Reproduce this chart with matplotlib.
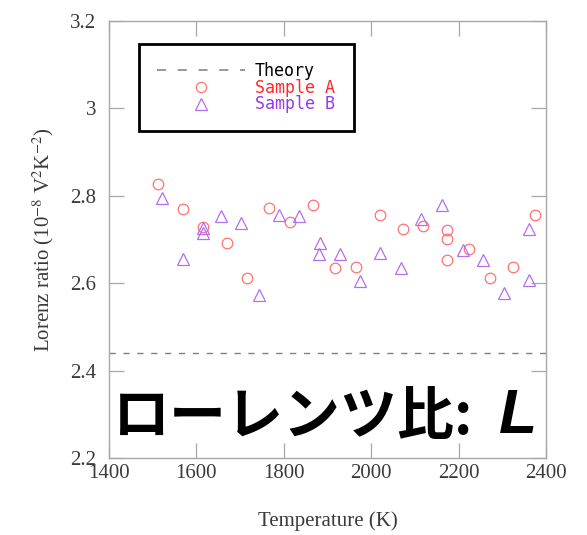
import matplotlib
matplotlib.use("Agg")
import matplotlib.pyplot as plt
from matplotlib.lines import Line2D

plt.rcParams['font.family'] = ['Liberation Serif', 'DejaVu Serif']
plt.rcParams['mathtext.fontset'] = 'stix'

# Lorenz ratio vs temperature, two samples plus the Sommerfeld value
theory_L = 2.44

temp_a = [1512, 1569, 1615, 1670, 1716, 1766, 1814, 1867, 1918, 1965,
          2020, 2073, 2119, 2174, 2174, 2174, 2224, 2272, 2325, 2375]
lorenz_a = [2.828, 2.769, 2.728, 2.691, 2.611, 2.771, 2.739, 2.778, 2.634, 2.636,
            2.755, 2.725, 2.732, 2.721, 2.702, 2.654, 2.679, 2.613, 2.638, 2.757]

temp_b = [1521, 1569, 1615, 1615, 1656, 1702, 1743, 1789, 1835, 1883, 1881,
          1929, 1974, 2020, 2068, 2114, 2162, 2210, 2256, 2304, 2361, 2361]
lorenz_b = [2.794, 2.656, 2.727, 2.716, 2.753, 2.737, 2.574, 2.757, 2.753, 2.691, 2.668,
            2.666, 2.604, 2.670, 2.634, 2.746, 2.780, 2.677, 2.654, 2.578, 2.723, 2.608]

xticks = [1400, 1600, 1800, 2000, 2200, 2400]
yticks = [2.2, 2.4, 2.6, 2.8, 3.0, 3.2]
ytick_labels = ['2.2', '2.4', '2.6', '2.8', '3', '3.2']

col_a = '#ff7272'
col_b = '#b46ef2'
spine_col = '#a8a8a8'
text_col = '#3a3a3a'

fig = plt.figure(figsize=(5.87, 5.35), dpi=100)
ax = fig.add_axes([0.1857, 0.1439, 0.7445, 0.8168])

ax.axhline(theory_L, color='#808080', lw=1.0, dashes=(4.5, 5.5))
ax.plot(temp_a, lorenz_a, 'o', ms=7.6, mfc='none', mec=col_a, mew=0.9)
ax.plot(temp_b, lorenz_b, '^', ms=8.2, mfc='none', mec=col_b, mew=0.9)

ax.set_xlim(1400, 2400)
ax.set_ylim(2.2, 3.2)
ax.set_xticks(xticks)
ax.set_xticklabels([str(t) for t in xticks])
ax.set_yticks(yticks)
ax.set_yticklabels(ytick_labels)
ax.tick_params(direction='in', length=11, width=0.9, color=spine_col,
               labelsize=15, labelcolor=text_col, top=True, right=True)
ax.tick_params(axis='x', pad=4)
ax.tick_params(axis='y', pad=9)
for s in ax.spines.values():
    s.set_color(spine_col)
    s.set_linewidth(1.0)

ax.set_xlabel('Temperature (K)', fontsize=15, color=text_col)
ax.xaxis.set_label_coords(0.5, -0.123)
ax.set_ylabel('Lorenz ratio (10$^{-8}$ V$^{2}$K$^{-2}$)', fontsize=15, color=text_col)
ax.yaxis.set_label_coords(-0.122, 0.5)

handles = [
    Line2D([], [], color='#909090', lw=1.3, dashes=(5, 6.5)),
    Line2D([], [], ls='none', marker='o', ms=7.4, mfc='none', mec=col_a, mew=0.9),
    Line2D([], [], ls='none', marker='^', ms=8.2, mfc='none', mec=col_b, mew=0.9),
]
leg = ax.legend(handles, ['Theory', 'Sample A', 'Sample B'],
                loc='upper left', bbox_to_anchor=(0.0687, 0.947, 0.492, 0.0),
                mode='expand', borderaxespad=0, borderpad=1.05,
                handlelength=5.3, handletextpad=0.6, labelspacing=-0.07,
                fancybox=False, framealpha=1, edgecolor='black',
                prop={'family': 'DejaVu Sans Mono', 'size': 12},
                labelcolor=['black', '#ff2a2a', '#9838e6'])
leg.get_frame().set_linewidth(2.0)

# big caption across the lower part of the axes
ax.text(0.008, 0.094, 'ローレンツ比:', transform=ax.transAxes,
        family=['Noto Sans CJK JP', 'DejaVu Sans'], weight='bold',
        fontsize=41, color='black', ha='left', va='center')
ax.text(0.893, 0.094, 'L', transform=ax.transAxes,
        family='Liberation Sans', weight='bold', style='italic',
        fontsize=45, color='black', ha='left', va='center')

fig.savefig('out.png', dpi=100)
